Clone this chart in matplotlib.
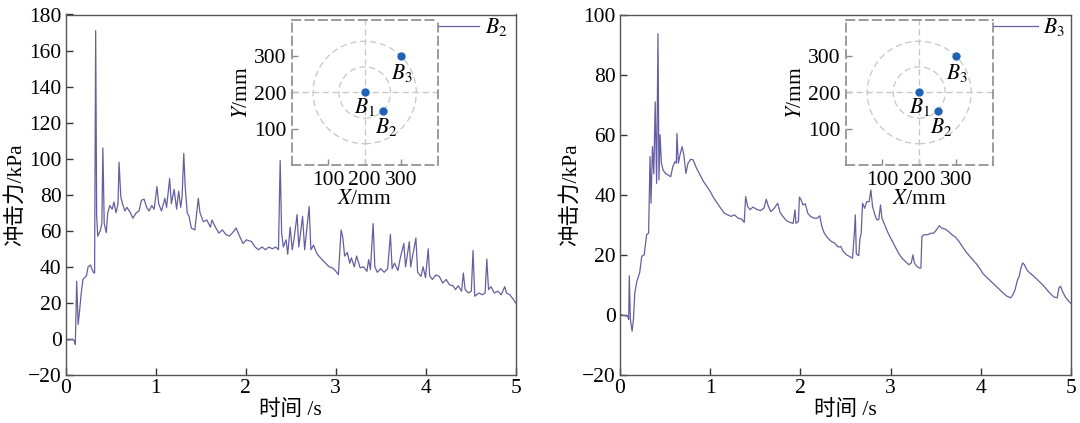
import matplotlib
matplotlib.use('Agg')
import matplotlib.pyplot as plt
from matplotlib.patches import Circle

plt.rcParams['mathtext.fontset'] = 'stix'
plt.rcParams['font.family'] = ['Liberation Serif', 'Noto Sans CJK SC']

# ---------------- data: sensor B2 (left panel) ----------------
t_b2 = [0.0, 0.038, 0.077, 0.096, 0.107, 0.122, 0.138, 0.153, 0.172, 0.191,
        0.23, 0.249, 0.275, 0.306, 0.321, 0.333, 0.344, 0.356, 0.383, 0.402,
        0.413, 0.428, 0.451, 0.467, 0.49, 0.516, 0.536, 0.559, 0.581, 0.593,
        0.612, 0.631, 0.658, 0.681, 0.719, 0.746, 0.784, 0.815, 0.842, 0.872,
        0.899, 0.926, 0.956, 0.983, 1.014, 1.033, 1.064, 1.102, 1.121, 1.155,
        1.174, 1.205, 1.232, 1.255, 1.278, 1.293, 1.312, 1.327, 1.35, 1.37,
        1.396, 1.435, 1.473, 1.492, 1.53, 1.568, 1.607, 1.626, 1.664, 1.702,
        1.741, 1.779, 1.817, 1.855, 1.894, 1.932, 1.97, 2.008, 2.066, 2.104,
        2.142, 2.181, 2.219, 2.257, 2.295, 2.334, 2.364, 2.383, 2.399, 2.418,
        2.448, 2.467, 2.494, 2.517, 2.536, 2.571, 2.59, 2.632, 2.655, 2.678,
        2.705, 2.724, 2.754, 2.785, 2.812, 2.85, 2.888, 2.927, 2.965, 3.003,
        3.03, 3.06, 3.08, 3.099, 3.129, 3.156, 3.175, 3.206, 3.233, 3.271,
        3.309, 3.347, 3.366, 3.386, 3.416, 3.435, 3.462, 3.5, 3.539, 3.577,
        3.608, 3.627, 3.653, 3.692, 3.718, 3.757, 3.776, 3.818, 3.833, 3.891,
        3.91, 3.948, 3.971, 3.998, 4.028, 4.044, 4.074, 4.113, 4.151, 4.189,
        4.227, 4.265, 4.304, 4.331, 4.361, 4.399, 4.418, 4.438, 4.476, 4.507,
        4.526, 4.545, 4.591, 4.629, 4.66, 4.679, 4.698, 4.725, 4.763, 4.801,
        4.839, 4.878, 4.897, 4.935, 4.973, 5.0]
v_b2 = [-0.5, -0.5, -0.3, -1, -3, 32, 8, 15, 25, 33,
        35, 40, 41, 37, 36.5, 171, 68, 57, 60, 64,
        106, 64, 59, 70, 74, 72, 76, 70, 75, 98,
        79, 75, 71, 73, 70, 67, 70, 71, 77, 77.5,
        73, 71, 74, 72, 84.5, 75, 71, 78, 73, 89,
        75, 83, 72, 82, 73, 79, 103, 85, 70, 68,
        61.5, 60.5, 78, 70, 65, 66, 62, 66, 62, 58.7,
        60.5, 58, 57, 59, 61.5, 57, 53, 55, 54, 51,
        49.5, 51, 49.5, 51, 50, 51, 49.5, 99, 59, 51,
        55, 47, 62, 49.5, 55, 69, 51, 68, 49.5, 60.5,
        73.5, 49.5, 52, 48, 46, 44, 42, 40, 39.4, 37.5,
        35.7, 60.5, 56, 46, 48, 42, 45, 40, 46, 39.5,
        40, 37.5, 44, 38.5, 64, 40, 37, 39, 37, 39,
        58, 39, 42, 38, 45, 53, 40, 54, 40, 56,
        37, 34.7, 40, 34, 50, 35, 33, 35.5, 34.7, 31,
        33, 30, 29.5, 27.4, 29.5, 26.5, 36.6, 27.4, 25.5, 26.5,
        49, 23.7, 25.5, 24.5, 25.5, 44.3, 27.4, 29, 25.5, 26.5,
        24.5, 29, 25.5, 24.5, 22, 20]

# ---------------- data: sensor B3 (right panel) ----------------
t_b3 = [0.0, 0.046, 0.084, 0.096, 0.103, 0.115, 0.134, 0.149, 0.164, 0.187,
        0.218, 0.241, 0.268, 0.295, 0.317, 0.333, 0.344, 0.36, 0.375, 0.39,
        0.406, 0.421, 0.432, 0.444, 0.459, 0.478, 0.505, 0.532, 0.562, 0.585,
        0.608, 0.624, 0.631, 0.647, 0.669, 0.689, 0.708, 0.731, 0.754, 0.784,
        0.811, 0.849, 0.888, 0.926, 0.964, 1.002, 1.041, 1.079, 1.117, 1.155,
        1.194, 1.232, 1.27, 1.308, 1.347, 1.377, 1.393, 1.415, 1.442, 1.473,
        1.511, 1.557, 1.595, 1.622, 1.645, 1.672, 1.71, 1.748, 1.775, 1.806,
        1.844, 1.882, 1.92, 1.94, 1.951, 1.978, 1.989, 2.008, 2.028, 2.054,
        2.081, 2.112, 2.15, 2.188, 2.215, 2.238, 2.265, 2.303, 2.341, 2.38,
        2.418, 2.448, 2.475, 2.513, 2.552, 2.578, 2.598, 2.609, 2.62, 2.647,
        2.659, 2.674, 2.689, 2.712, 2.735, 2.762, 2.781, 2.8, 2.82, 2.846,
        2.869, 2.888, 2.904, 2.934, 2.973, 3.011, 3.049, 3.087, 3.126, 3.164,
        3.202, 3.229, 3.248, 3.263, 3.29, 3.317, 3.336, 3.347, 3.374, 3.412,
        3.451, 3.477, 3.508, 3.539, 3.566, 3.604, 3.642, 3.68, 3.719, 3.757,
        3.795, 3.833, 3.872, 3.91, 3.948, 3.986, 4.025, 4.063, 4.101, 4.139,
        4.178, 4.216, 4.254, 4.292, 4.331, 4.357, 4.38, 4.407, 4.426, 4.445,
        4.464, 4.484, 4.51, 4.541, 4.579, 4.617, 4.656, 4.694, 4.732, 4.771,
        4.809, 4.847, 4.866, 4.885, 4.904, 4.943, 4.973, 5.0]
v_b3 = [0.1, -0.2, -0.4, -1.5, 13, -1.5, -5.4, -1.5, 7.3, 11.2,
        14, 19.5, 20, 26.7, 27.2, 52.7, 37.2, 56, 47, 70.9,
        43.8, 93.6, 45, 60, 50.5, 48.2, 47.1, 46.6, 46, 49.3,
        51, 50.5, 60.4, 50.5, 53.8, 56, 53.2, 47.1, 50.5, 51.8,
        51.6, 48.8, 46.6, 44.4, 42.7, 41, 38.8, 37.2, 35.5, 33.9,
        33.3, 32.8, 33.3, 32.2, 31.9, 30.8, 39.4, 36.1, 35, 35.9,
        35.2, 34.7, 35.5, 38.5, 36.1, 34.4, 35.5, 37.2, 34.1, 32.8,
        31.4, 30.8, 30.5, 35, 30.5, 31.1, 39.2, 38.3, 36.6, 37,
        33.9, 32.8, 32.2, 32.2, 33, 29.4, 27.2, 25.6, 24.5, 23.9,
        22.6, 22.8, 21.1, 20, 19.3, 18.9, 27.2, 33.3, 20.3, 19.7,
        25, 27.2, 37.2, 35.5, 37.7, 37.7, 41.6, 36.1, 33.9, 31.7,
        31.7, 36.6, 32.2, 30, 27.2, 25, 22.8, 20.6, 18.9, 17.8,
        16.7, 17.3, 20, 17.3, 16.2, 15.6, 15.6, 26.1, 26.7, 26.7,
        27.2, 27.2, 28.3, 29.7, 28.9, 28.6, 27.8, 26.7, 25.9, 24.5,
        22.8, 21.1, 19.7, 18.4, 17.1, 15.6, 13.7, 12.6, 11.5, 10.4,
        9.3, 8.2, 7.1, 6.2, 5.7, 6.8, 8.4, 11.7, 12.8, 15.6,
        17.3, 16.7, 15, 14, 13.1, 12, 10.9, 9.8, 8.4, 7.1,
        6, 5.7, 9, 9.5, 7.9, 5.7, 4.6, 3.8]

# ---------------- inset: sensor layout ----------------
sensor_labels = [r'$B_1$', r'$B_2$', r'$B_3$']
sensor_x = [200, 250, 300]
sensor_y = [200, 150, 300]
label_x = [200, 260, 302]
label_y = [161, 106, 254]
ring_radii = [70.7, 141.4]
ring_center = (200, 200)

time_ticks = [0, 1, 2, 3, 4, 5]
inset_ticks = [100, 200, 300]

line_color = '#6460a0'
dot_color = '#1f63b5'
grid_gray = '#c6c6c6'
frame_gray = '#8a8a8a'

W, H = 1080, 423
fig = plt.figure(figsize=(W / 100, H / 100), dpi=100)

panels = [
    dict(left=65.7, right=515.7, t=t_b2, v=v_b2, ylim=(-20, 180),
         yticks=list(range(-20, 181, 20)), name=r'$B_2$',
         inset=(291.7, 437.7), leg_x=0.981),
    dict(left=620.0, right=1071.0, t=t_b3, v=v_b3, ylim=(-20, 100),
         yticks=list(range(-20, 101, 20)), name=r'$B_3$',
         inset=(845.7, 992.7), leg_x=0.987),
]

top_px, bot_px = 14.5, 375.0
for p in panels:
    ax = fig.add_axes([p['left'] / W, 1 - bot_px / H,
                       (p['right'] - p['left']) / W, (bot_px - top_px) / H])
    ax.plot(p['t'], p['v'], color=line_color, lw=0.9, label=p['name'])
    ax.set_xlim(0, 5)
    ax.set_ylim(*p['ylim'])
    ax.set_xticks(time_ticks)
    ax.set_yticks(p['yticks'])
    ax.tick_params(direction='in', length=5, width=1, labelsize=15.5,
                   colors='#333333', labelcolor='black', pad=3)
    for s in ax.spines.values():
        s.set_color('#555555')
        s.set_linewidth(1.0)
    ax.set_xlabel('时间 /s', fontsize=15.5, labelpad=1)
    ax.set_ylabel('冲击力/kPa', fontsize=15.5, labelpad=1)
    ax.legend(loc='center right', bbox_to_anchor=(p['leg_x'], 0.9645),
              frameon=False, fontsize=15.5, handlelength=2.2,
              handletextpad=0.25, borderpad=0, borderaxespad=0)

    # inset
    x0, x1 = p['inset']
    ins = fig.add_axes([x0 / W, 1 - 165 / H, (x1 - x0) / W, 145 / H])
    ins.set_facecolor('white')
    ins.set_xlim(0, 400)
    ins.set_ylim(0, 400)
    for r in ring_radii:
        ins.add_patch(Circle(ring_center, r, fill=False, ec=grid_gray,
                             lw=0.9, ls=(0, (5, 3))))
    ins.axhline(ring_center[1], color=grid_gray, lw=0.9, ls=(0, (5, 3)))
    ins.axvline(ring_center[0], color=grid_gray, lw=0.9, ls=(0, (5, 3)))
    ins.plot(sensor_x, sensor_y, 'o', color=dot_color, ms=6, mec='none')
    for lab, lx, ly in zip(sensor_labels, label_x, label_y):
        ins.text(lx, ly, lab, fontsize=15.5, ha='center', va='center')
    ins.set_xticks(inset_ticks)
    ins.set_yticks(inset_ticks)
    ins.tick_params(direction='in', length=4, width=1, colors=frame_gray,
                    labelcolor='black', labelsize=15.5, pad=4)
    for s in ins.spines.values():
        s.set_color(frame_gray)
        s.set_linewidth(1.2)
        s.set_linestyle((0, (5, 3)))
    ins.set_xlabel(r'$X$/mm', fontsize=15.5, labelpad=0)
    ins.set_ylabel(r'$Y$/mm', fontsize=15.5, labelpad=1)

fig.savefig('out.png', dpi=100)
